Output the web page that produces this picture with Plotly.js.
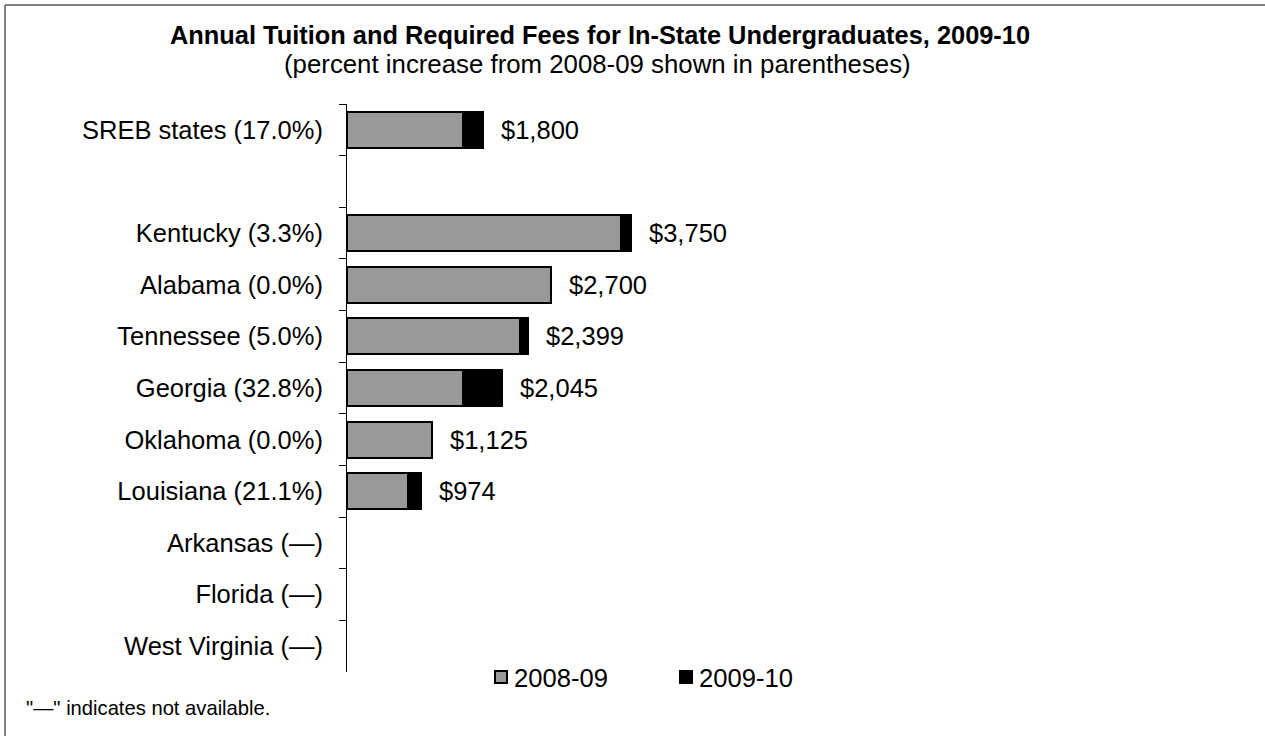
<!DOCTYPE html>
<html>
<head>
<meta charset="utf-8">
<script src="https://cdn.plot.ly/plotly-3.0.1.min.js"></script>
<style>html,body{margin:0;padding:0;background:#fff;}#chart{width:1265px;height:736px;}</style>
</head>
<body>
<div id="chart"></div>
<script>
// Data
const categories = ["SREB states (17.0%)", " ", "Kentucky (3.3%)", "Alabama (0.0%)", "Tennessee (5.0%)",
  "Georgia (32.8%)", "Oklahoma (0.0%)", "Louisiana (21.1%)", "Arkansas (—)", "Florida (—)", "West Virginia (—)"];
const fees2008 = [1538, null, 3630, 2700, 2285, 1540, 1125, 804, null, null, null];
const increase2009 = [262, null, 120, 0, 114, 505, 0, 170, null, null, null];
const totalLabels = ["$1,800", "", "$3,750", "$2,700", "$2,399", "$2,045", "$1,125", "$974", "", "", ""];
const seriesNames = ["2008-09", "2009-10"];
const seriesColors = ["#999999", "#000000"];

const FONT = "Liberation Sans, Arial, sans-serif";
const L = 347, R = 1103, T = 104, B = 672;
const W = R - L, H = B - T;
const px = x => (x - L) / W;
const py = y => (B - y) / H;

const traces = seriesNames.map((name, k) => ({
  type: "bar", orientation: "h", name: name, y: categories, x: k === 0 ? fees2008 : increase2009,
  marker: {color: seriesColors[k], line: {color: "#000000", width: 2}}, hoverinfo: "x", showlegend: false
}));

const annotations = [];
categories.forEach((c, i) => {
  if (fees2008[i] !== null) {
    annotations.push({x: fees2008[i] + increase2009[i], y: c, xref: "x", yref: "y",
      text: totalLabels[i], showarrow: false, xanchor: "left", xshift: 16,
      font: {family: FONT, size: 25.5, color: "#000"}});
  }
});
annotations.push({xref: "paper", yref: "paper", x: px(597), y: py(64), xanchor: "center", yanchor: "middle",
  text: "(percent increase from 2008-09 shown in parentheses)", showarrow: false,
  font: {family: FONT, size: 25.8, color: "#000"}});
annotations.push({xref: "paper", yref: "paper", x: px(24), y: py(708), xanchor: "left", yanchor: "middle",
  text: "\"—\" indicates not available.", showarrow: false,
  font: {family: FONT, size: 20.2, color: "#000"}});

// custom legend (shapes + text), drawn from the series arrays
const legendX = [494, 679];
const shapes = [
  {type: "line", xref: "paper", yref: "paper", x0: px(5), x1: px(5), y0: py(5), y1: py(740), line: {color: "#808080", width: 2}},
  {type: "line", xref: "paper", yref: "paper", x0: px(5), x1: px(1270), y0: py(5), y1: py(5), line: {color: "#808080", width: 2}}
];
seriesNames.forEach((name, k) => {
  shapes.push({type: "rect", xref: "paper", yref: "paper", x0: px(legendX[k] + 1), x1: px(legendX[k] + 13),
    y0: py(671), y1: py(683), fillcolor: seriesColors[k], line: {color: "#000", width: 2}});
  annotations.push({xref: "paper", yref: "paper", x: px(legendX[k] + 18), y: py(678), xanchor: "left", yanchor: "middle",
    text: name, showarrow: false, font: {family: FONT, size: 25.6, color: "#000"}});
});

const layout = {
  width: 1265, height: 736,
  margin: {l: L, r: 1265 - R, t: T, b: 736 - B, pad: 0},
  paper_bgcolor: "#ffffff", plot_bgcolor: "#ffffff",
  barmode: "stack", bargap: 0.3,
  showlegend: false,
  title: {text: "<b>Annual Tuition and Required Fees for In-State Undergraduates, 2009-10</b>",
    x: 600 / 1265, xref: "container", xanchor: "center", y: 1 - 35 / 736, yref: "container", yanchor: "middle",
    font: {family: FONT, size: 25.4, color: "#000"}},
  xaxis: {range: [0, 10000], showgrid: false, zeroline: false, showline: false, showticklabels: false, ticks: "", fixedrange: true},
  yaxis: {type: "category", autorange: "reversed", showgrid: false, zeroline: false,
    showline: true, linecolor: "#000", linewidth: 1,
    ticks: "outside", tickson: "boundaries", ticklen: 7, tickcolor: "#000", tickwidth: 1,
    ticklabelstandoff: 18,
    tickfont: {family: FONT, size: 25.5, color: "#000"}},
  annotations: annotations,
  shapes: shapes
};

Plotly.newPlot("chart", traces, layout, {displayModeBar: false, staticPlot: true});
</script>
</body>
</html>
